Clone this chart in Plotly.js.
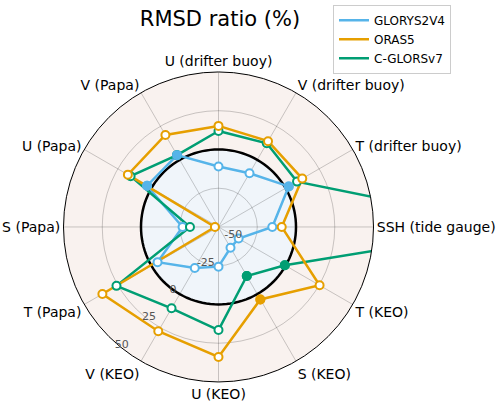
<!DOCTYPE html>
<html>
<head>
<meta charset="utf-8">
<script src="https://cdn.plot.ly/plotly-3.0.1.min.js"></script>
<style>html,body{margin:0;padding:0;background:#fff;}#chart{width:500px;height:406px;}</style>
</head>
<body>
<div id="chart"></div>
<script>
// ---- data ----
const categories = ["U (drifter buoy)", "V (drifter buoy)", "T (drifter buoy)", "SSH (tide gauge)",
  "T (KEO)", "S (KEO)", "U (KEO)", "V (KEO)", "T (Papa)", "S (Papa)", "U (Papa)", "V (Papa)"];
const seriesNames = ["GLORYS2V4", "ORAS5", "C-GLORSv7"];
const glorys2v4 = [-11, -10, 2.3, -15.3, -35, -34.5, -24.4, -19.4, -4.6, -26.8, 3.2, 3.5];
const oras5     = [15.2, 13.9, 12.4, -9.2, 25.3, 4, 33.9, 27.7, 36.5, -47.7, 17.5, 18.5];
const cglorsv7  = [11.9, 12.3, 8.5, 145, -0.6, -13.5, 16.5, 10.6, 26, -31.6, 15.5, 3.5];
// filled (significant) markers
const glorys2v4Sig = [false, false, true, false, false, false, false, false, false, false, true, true];
const oras5Sig     = [false, false, false, false, false, true, false, false, false, false, false, false];
const cglorsv7Sig  = [false, false, false, false, true, true, false, false, false, false, false, false];
const radialTicks = [-50, -25, 0, 25, 50];
const radialRange = [-50, 50];
const zeroLevel = 0;

// ---- styles ----
const colors = {"GLORYS2V4": "#56B4E9", "ORAS5": "#E69F00", "C-GLORSv7": "#009E73"};
const FONT = "DejaVu Sans, sans-serif";

const series = [
  {name: "GLORYS2V4", r: glorys2v4, sig: glorys2v4Sig, rank: 1},
  {name: "C-GLORSv7", r: cglorsv7, sig: cglorsv7Sig, rank: 3},
  {name: "ORAS5", r: oras5, sig: oras5Sig, rank: 2}
];

const traces = [];
// background: inner (below zero) region and zero circle
const circleTheta = [];
for (let a = 0; a <= 360; a += 3) circleTheta.push(a);
traces.push({
  type: "scatterpolar", subplot: "polar", mode: "lines",
  r: circleTheta.map(() => zeroLevel), theta: circleTheta,
  fill: "toself", fillcolor: "rgb(240,245,250)",
  line: {color: "black", width: 2.5},
  showlegend: false, hoverinfo: "skip"
});

const closed = arr => arr.concat([arr[0]]);
// lines
series.forEach(s => {
  traces.push({
    type: "scatterpolar", subplot: "polar2", mode: "lines",
    name: s.name, legendrank: s.rank,
    r: closed(s.r), theta: closed(categories),
    line: {color: colors[s.name], width: 2.5},
    cliponaxis: true
  });
});
// hollow markers
series.forEach(s => {
  traces.push({
    type: "scatterpolar", subplot: "polar2", mode: "markers",
    r: s.r, theta: categories, showlegend: false,
    marker: {size: 8, color: "white", line: {color: colors[s.name], width: 2}},
    cliponaxis: true
  });
});
// filled markers
series.forEach(s => {
  const idx = s.r.map((v, i) => i).filter(i => s.sig[i]);
  traces.push({
    type: "scatterpolar", subplot: "polar2", mode: "markers",
    r: idx.map(i => s.r[i]), theta: idx.map(i => categories[i]), showlegend: false,
    marker: {size: 8, color: colors[s.name], line: {color: colors[s.name], width: 2}},
    cliponaxis: true
  });
});

const domain = {x: [0.127, 0.747], y: [0.059, 0.823]};
const gridCol = "rgba(0,0,0,0.2)";
const layout = {
  width: 500, height: 406,
  margin: {l: 0, r: 0, t: 0, b: 0},
  paper_bgcolor: "white",
  font: {family: FONT, color: "black"},
  title: {text: "RMSD ratio (%)", x: 0.44, xanchor: "center", y: 0.953, yanchor: "middle",
          font: {family: FONT, size: 21, color: "black"}},
  showlegend: true,
  legend: {x: 0.666, y: 0.988, xanchor: "left", yanchor: "top",
           bgcolor: "white", bordercolor: "#cccccc", borderwidth: 1,
           font: {family: FONT, size: 12, color: "black"}, traceorder: "normal"},
  polar: {
    domain: domain, bgcolor: "rgb(249,242,239)",
    radialaxis: {visible: false, range: radialRange},
    angularaxis: {visible: false, rotation: 90, direction: "clockwise"}
  },
  polar2: {
    domain: domain, bgcolor: "rgba(0,0,0,0)",
    radialaxis: {range: radialRange, tickvals: radialTicks, ticktext: radialTicks.map(String),
                 angle: 225, tickangle: -135, side: "counterclockwise", showline: false, ticks: "",
                 gridcolor: gridCol, gridwidth: 1,
                 tickfont: {family: FONT, size: 11, color: "#555555"}},
    angularaxis: {type: "category", categoryarray: categories, rotation: 90, direction: "clockwise",
                  showline: true, linecolor: "black", linewidth: 1, ticks: "",
                  gridcolor: gridCol, gridwidth: 1,
                  tickfont: {family: FONT, size: 14, color: "black"}}
  }
};
Plotly.newPlot("chart", traces, layout, {staticPlot: true, displayModeBar: false});
</script>
</body>
</html>
